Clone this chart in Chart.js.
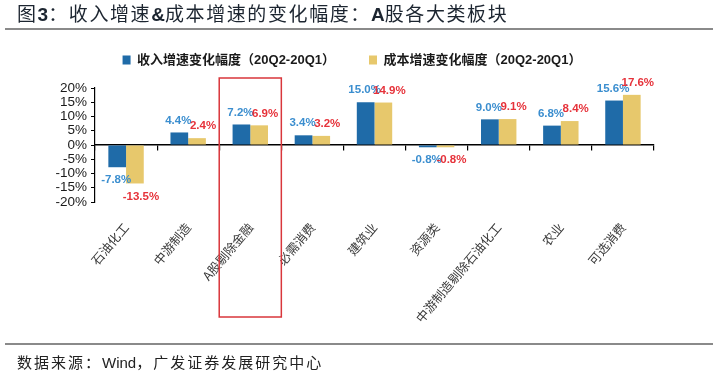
<!DOCTYPE html>
<html>
<head>
<meta charset="utf-8">
<script src="https://cdn.jsdelivr.net/npm/chart.js@4/dist/chart.umd.min.js"></script>
<style>
  html, body { margin: 0; padding: 0; background: #fff; }
  #wrap { position: relative; width: 724px; height: 376px; overflow: hidden; font-family: 'Liberation Sans', Arial, 'Noto Sans CJK SC', sans-serif; }
  #chartBox { position: absolute; left: 0; top: 0; width: 724px; height: 376px; }
  #title { position: absolute; left: 17px; top: 0px; font-size: 19px; line-height: 25px; color: #1c2530; white-space: nowrap; font-family: 'Noto Sans CJK SC', sans-serif; letter-spacing: 1.6px; }
  #title b { font-family: 'Liberation Sans', Arial, sans-serif; font-weight: bold; letter-spacing: 0; }
  #line1 { position: absolute; left: 5px; top: 28px; width: 708px; height: 2px; background: #8a8a8a; }
  #line2 { position: absolute; left: 5px; top: 343px; width: 708px; height: 2px; background: #8a8a8a; }
  #foot { position: absolute; left: 17px; top: 351px; font-size: 15px; line-height: 22px; color: #222; white-space: nowrap; font-family: 'Noto Sans CJK SC', sans-serif; letter-spacing: 2px; }
  #foot span { font-family: 'Liberation Sans', Arial, sans-serif; font-size: 15px; letter-spacing: 0; }
</style>
</head>
<body>
<div id="wrap">
  <div id="chartBox"><canvas id="c" width="724" height="376"></canvas></div>
  <div id="title">图<b>3</b>：收入增速<b>&amp;</b>成本增速的变化幅度：<b>A</b>股各大类板块</div>
  <div id="line1"></div>
  <div id="line2"></div>
  <div id="foot">数据来源：<span>Wind</span>，广发证券发展研究中心</div>
</div>
<script>
const categories = ['石油化工', '中游制造', 'A股剔除金融', '必需消费', '建筑业', '资源类', '中游制造剔除石油化工', '农业', '可选消费'];
const revenueChange = [-7.8, 4.4, 7.2, 3.4, 15.0, -0.8, 9.0, 6.8, 15.6];
const costChange = [-13.5, 2.4, 6.9, 3.2, 14.9, -0.8, 9.1, 8.4, 17.6];
const seriesNames = ['收入增速变化幅度（20Q2-20Q1）', '成本增速变化幅度（20Q2-20Q1）'];
const highlightCategory = 'A股剔除金融';
const yMin = -20, yMax = 20, yStep = 5;

const BLUE = '#1f6ba8';
const GOLD = '#e7c86c';
const BLUE_TXT = '#3b8ecf';
const RED_TXT = '#e6323a';

const legendGap = {
  id: 'legendGap',
  afterInit(chart) {
    const lg = chart.legend;
    if (!lg || lg._gapPatched) return;
    const orig = lg.fit.bind(lg);
    lg.fit = function () { orig(); this.height += 11.5; };
    lg._gapPatched = true;
  }
};

const valueLabels = {
  id: 'valueLabels',
  afterDatasetsDraw(chart) {
    const ctx = chart.ctx;
    ctx.save();
    ctx.font = 'bold 11.5px "Liberation Sans", Arial, sans-serif';
    ctx.textAlign = 'center';
    ctx.textBaseline = 'middle';
    chart.data.datasets.forEach((ds, di) => {
      const meta = chart.getDatasetMeta(di);
      ctx.fillStyle = di === 0 ? BLUE_TXT : RED_TXT;
      meta.data.forEach((el, i) => {
        const v = ds.data[i];
        const txt = v.toFixed(1) + '%';
        const dx = di === 0 ? -1 : 6;
        const y = v >= 0 ? el.y - 12 : el.y + 13;
        ctx.fillText(txt, el.x + dx, y);
      });
    });
    ctx.restore();
  }
};

const highlightBox = {
  id: 'highlightBox',
  afterDatasetsDraw(chart) {
    const xs = chart.scales.x, ys = chart.scales.y;
    const idx = categories.indexOf(highlightCategory);
    const w = xs.width / categories.length;
    const cx = xs.getPixelForValue(idx);
    const top = ys.getPixelForValue(yMax) - 10;
    const bottom = ys.getPixelForValue(yMin) + 115;
    const ctx = chart.ctx;
    ctx.save();
    ctx.strokeStyle = '#d9363b';
    ctx.lineWidth = 1.5;
    ctx.strokeRect(cx - w / 2, top, w, bottom - top);
    ctx.restore();
  }
};

new Chart(document.getElementById('c'), {
  type: 'bar',
  data: {
    labels: categories,
    datasets: [
      { label: seriesNames[0], data: revenueChange, backgroundColor: BLUE, borderWidth: 0, xAxisID: 'x' },
      { label: seriesNames[1], data: costChange, backgroundColor: GOLD, borderWidth: 0, xAxisID: 'x' }
    ]
  },
  options: {
    responsive: false,
    animation: false,
    events: [],
    layout: { padding: { left: 50, right: 70, top: 19.5, bottom: 0 } },
    datasets: { bar: { categoryPercentage: 0.57, barPercentage: 1.0 } },
    plugins: {
      legend: {
        position: 'top',
        labels: {
          boxWidth: 8,
          boxHeight: 9,
          padding: 34,
          color: '#1a1a1a',
          font: { size: 13, weight: 'bold', family: '"Liberation Sans", Arial, "Noto Sans CJK SC", sans-serif' }
        }
      },
      tooltip: { enabled: false }
    },
    scales: {
      x: {
        type: 'category',
        position: 'bottom',
        offset: true,
        grid: { display: false, offset: true },
        border: { display: false },
        ticks: {
          minRotation: 50,
          maxRotation: 50,
          autoSkip: false,
          padding: 10,
          color: '#3a3a3a',
          font: { size: 12.5, family: '"Noto Sans CJK SC", sans-serif' }
        },
        afterFit(s) { s.height = 174; }
      },
      x0: {
        type: 'category',
        labels: categories,
        position: { y: 0 },
        offset: true,
        grid: { display: true, offset: true, drawOnChartArea: false, drawTicks: true, tickLength: 5, color: '#000', lineWidth: 1.2 },
        border: { display: true, color: '#000', width: 1.5 },
        ticks: { display: false }
      },
      y: {
        min: yMin,
        max: yMax,
        grid: { display: true, drawOnChartArea: false, drawTicks: true, tickLength: 4, color: '#000' },
        border: { display: true, color: '#000', width: 1.2 },
        ticks: {
          stepSize: yStep,
          autoSkip: false,
          padding: 4,
          color: '#1a1a1a',
          font: { size: 13.5, family: '"Liberation Sans", Arial, sans-serif' },
          callback: v => v + '%'
        },
        afterFit(s) { s.width = 45; }
      }
    }
  },
  plugins: [legendGap, valueLabels, highlightBox]
});
</script>
</body>
</html>
